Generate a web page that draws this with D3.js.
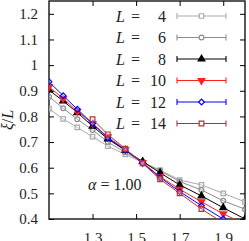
<!DOCTYPE html>
<html>
<head>
<meta charset="utf-8">
<script src="https://cdn.jsdelivr.net/npm/d3@7"></script>
<style>
body { margin:0; background:#fff; }
svg { display:block; font-family:"Liberation Serif","DejaVu Serif",serif; }
</style>
</head>
<body>
<svg id="chart" width="249" height="241"></svg>
<script>
// data
var xs = [1.1, 1.165, 1.23, 1.3, 1.37, 1.45, 1.53, 1.61, 1.7, 1.8, 1.9, 2.0];
var xs14 = [1.3, 1.37, 1.45, 1.53, 1.61, 1.7, 1.8, 1.9, 2.0];
var sizes = [4, 6, 8, 10, 12, 14];
var yL4  = [0.83, 0.79, 0.757, 0.721, 0.684, 0.652, 0.62, 0.591, 0.552, 0.533, 0.50, 0.467];
var yL6  = [0.877, 0.832, 0.789, 0.747, 0.70, 0.66, 0.622, 0.588, 0.546, 0.513, 0.471, 0.438];
var yL8  = [0.903, 0.86, 0.815, 0.762, 0.712, 0.668, 0.624, 0.58, 0.533, 0.49, 0.444, 0.40];
var yL10 = [0.915, 0.87, 0.82, 0.772, 0.72, 0.671, 0.62, 0.565, 0.516, 0.467, 0.42, 0.38];
var yL12 = [0.935, 0.881, 0.828, 0.772, 0.716, 0.669, 0.618, 0.562, 0.507, 0.452, 0.40, 0.355];
var yL14 = [0.789, 0.73, 0.674, 0.617, 0.555, 0.50, 0.439, 0.385, 0.33];
var xTicks = [1.3, 1.5, 1.7, 1.9];
var yTicks = [0.4, 0.5, 0.6, 0.7, 0.8, 0.9, 1, 1.1, 1.2];

var series = [
  {L:sizes[0], x:xs,   y:yL4,  color:"#aaaaaa", sym:d3.symbolSquare,   rot:0,   fill:"none", sz:20},
  {L:sizes[1], x:xs,   y:yL6,  color:"#8c8c8c", sym:d3.symbolCircle,   rot:0,   fill:"none", sz:18},
  {L:sizes[2], x:xs,   y:yL8,  color:"#000000", sym:d3.symbolTriangle, rot:0,   fill:"#000", sz:20},
  {L:sizes[3], x:xs,   y:yL10, color:"#ff2020", sym:d3.symbolTriangle, rot:180, fill:"#ff2020", sz:20},
  {L:sizes[4], x:xs,   y:yL12, color:"#0000ff", sym:d3.symbolSquare,   rot:45,  fill:"none", sz:16},
  {L:sizes[5], x:xs14, y:yL14, color:"#b83030", sym:d3.symbolSquare,   rot:0,   fill:"none", sz:22}
];

var svg = d3.select("#chart");
var mLeft = 49, mRight = 245, mTop = 1, mBottom = 219;

var x = d3.scaleLinear().domain([1.1, 2.0]).range([mLeft, mRight]);
var y = d3.scaleLinear().domain([0.4, 1.25]).range([mBottom, mTop]);

svg.append("clipPath").attr("id","clip")
  .append("rect").attr("x",mLeft).attr("y",mTop).attr("width",mRight-mLeft).attr("height",mBottom-mTop);

// axes, ticks inside on all 4 sides
svg.append("g").attr("transform","translate(0,"+mBottom+")")
  .call(d3.axisBottom(x).tickValues(xTicks).tickSize(-5).tickPadding(13).tickFormat(d3.format(".1f")));
svg.append("g").attr("transform","translate(0,"+mTop+")")
  .call(d3.axisTop(x).tickValues(xTicks).tickSize(-5).tickFormat(""));
svg.append("g").attr("transform","translate("+mLeft+",0)")
  .call(d3.axisLeft(y).tickValues(yTicks).tickSize(-5).tickPadding(11).tickFormat(function(d){ return d == 1 ? "1" : d3.format(".1f")(d); }));
svg.append("g").attr("transform","translate("+mRight+",0)")
  .call(d3.axisRight(y).tickValues(yTicks).tickSize(-5).tickFormat(""));

svg.selectAll(".domain").remove();
svg.selectAll(".tick line").attr("stroke","#000").attr("stroke-width",1);
svg.selectAll(".tick text").attr("font-size",15).attr("fill","#222")
  .attr("font-family","'Liberation Serif','DejaVu Serif',serif");

svg.append("rect").attr("x",mLeft).attr("y",mTop).attr("width",mRight-mLeft).attr("height",mBottom-mTop)
  .attr("fill","none").attr("stroke","#000").attr("stroke-width",1.3);

var line = d3.line().x(function(d){ return x(d[0]); }).y(function(d){ return y(d[1]); });
var plot = svg.append("g").attr("clip-path","url(#clip)");

series.forEach(function(s) {
  var pts = s.x.map(function(v,i){ return [v, s.y[i]]; });
  plot.append("path").datum(pts).attr("d",line)
    .attr("fill","none").attr("stroke",s.color).attr("stroke-width",1);
  plot.selectAll(null).data(pts).enter().append("path")
    .attr("d", d3.symbol().type(s.sym).size(s.sz))
    .attr("transform", function(d){ return "translate("+x(d[0])+","+y(d[1])+") rotate("+s.rot+")"; })
    .attr("fill", s.fill === "none" ? "rgba(255,255,255,0.3)" : s.fill)
    .attr("stroke", s.color).attr("stroke-width",1.2);
});

// legend
var leg = svg.append("g");
series.forEach(function(s,i) {
  var yy = 16 + i*21.5;
  leg.append("text").attr("x",116).attr("y",yy+5.5).attr("font-size",16).attr("fill","#222")
    .html('<tspan font-style="italic">L</tspan> <tspan dx="2">=</tspan>');
  leg.append("text").attr("x",166).attr("y",yy+5.5).attr("font-size",16).attr("fill","#222")
    .attr("text-anchor","end").text(s.L);
  leg.append("line").attr("x1",177).attr("x2",226).attr("y1",yy).attr("y2",yy)
    .attr("stroke",s.color).attr("stroke-width",1.1);
  [177,226].forEach(function(cx){
    leg.append("line").attr("x1",cx).attr("x2",cx).attr("y1",yy-3).attr("y2",yy+3)
      .attr("stroke",s.color).attr("stroke-width",1.1);
  });
  leg.append("path").attr("d", d3.symbol().type(s.sym).size(s.sz))
    .attr("transform","translate(201.5,"+yy+") rotate("+s.rot+")")
    .attr("fill", s.fill === "none" ? "#fff" : s.fill)
    .attr("stroke",s.color).attr("stroke-width",1.2);
});

// axis label and annotation
svg.append("text").attr("transform","translate(13,120) rotate(-90)")
  .attr("text-anchor","middle").attr("font-size",16).attr("fill","#222")
  .html('<tspan font-style="italic">ξ</tspan>/<tspan font-style="italic">L</tspan>');
svg.append("text").attr("x",88).attr("y",190).attr("font-size",16).attr("fill","#222")
  .html('<tspan font-style="italic">α</tspan> = 1.00');
</script>
</body>
</html>
